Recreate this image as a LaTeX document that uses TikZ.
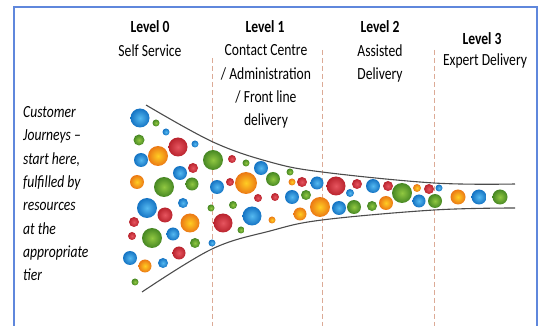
\documentclass[tikz,border=0pt]{standalone}
\usepackage{fontspec}
\setmainfont{Carlito}[FakeStretch=0.8]

% 球的颜色 (内/外)
\definecolor{bluein}{RGB}{85,185,240}
\definecolor{blueout}{RGB}{20,115,195}
\definecolor{greenin}{RGB}{145,200,65}
\definecolor{greenout}{RGB}{70,135,35}
\definecolor{orangein}{RGB}{255,205,35}
\definecolor{orangeout}{RGB}{235,120,20}
\definecolor{redin}{RGB}{230,85,95}
\definecolor{redout}{RGB}{185,35,45}
\definecolor{framecol}{RGB}{95,135,220}
\definecolor{tiercol}{RGB}{220,170,150}

\begin{document}
\begin{tikzpicture}[x=1pt, y=-1pt,
  every node/.style={inner sep=0pt, font=\fontsize{17}{23.4}\selectfont},
  bb/.style={shading=radial, inner color=bluein, outer color=blueout},
  gb/.style={shading=radial, inner color=greenin, outer color=greenout},
  ob/.style={shading=radial, inner color=orangein, outer color=orangeout},
  rb/.style={shading=radial, inner color=redin, outer color=redout},
  tier/.style={dashed, dash pattern=on 5pt off 3pt, tiercol, line width=0.8pt},
  funnel/.style={line width=1.1pt, black!70}]
  \useasboundingbox (0,0) rectangle (539,326);

  % 1. 层级分隔虚线
  \draw[tier] (212,58) -- (212,326);
  \draw[tier] (322,50) -- (322,326);
  \draw[tier] (434,50) -- (434,326);

  % 2. 标题 (多行节点的 base 在最后一行)
  \node[anchor=base, font=\fontsize{17}{23.4}\selectfont\bfseries] (lvl0) at (150,33) {Level 0};
  \node[anchor=base] (lvl0txt) at (150,57) {Self Service};
  \node[anchor=base, font=\fontsize{17}{23.4}\selectfont\bfseries] (lvl1) at (265,33) {Level 1};
  \node[anchor=base, align=center] (lvl1txt) at (266,126)
    {Contact Centre\\/ Administration\\/ Front line\\delivery};
  \node[anchor=base, font=\fontsize{17}{23.4}\selectfont\bfseries] (lvl2) at (380,33) {Level 2};
  \node[anchor=base, align=center] (lvl2txt) at (380,80) {Assisted\\Delivery};
  \node[anchor=base, font=\fontsize{17}{23.4}\selectfont\bfseries] (lvl3) at (482,45) {Level 3};
  \node[anchor=base] (lvl3txt) at (485,66) {Expert Delivery};

  % 左侧说明
  \node[anchor=base west, align=left, font=\fontsize{17}{23.4}\selectfont\itshape] (journey) at (23,281)
    {Customer\\Journeys --\\start here,\\fulfilled by\\resources\\at the\\appropriate\\tier};

  % 3. 漏斗曲线
  \draw[funnel] plot[smooth, tension=0.6] coordinates
    {(146,105) (213,142) (270,162) (322,172) (434,183) (515,184)};
  \draw[funnel] plot[smooth, tension=0.6] coordinates
    {(142,292) (212,249) (270,231) (322,220) (434,210) (515,208)};

  % 4. 彩球 (x/y/半径)
  \foreach \px/\py/\r in {140/118/9.5, 166/132/3.5, 195/144/3.5, 141/160/7, 180/173/7,
      147/208/10, 183/203/5, 173/234/6.5, 130/258/7, 163/263/5, 212/243/3.5,
      261/168/7, 217/187/7, 292/197/7, 252/216/9.5, 317/183/6.5, 350/193/4,
      373/186/7, 339/208/7, 439/188/3.5, 419/201/6.5, 479/197/7.5}
    \shade[bb] (\px,\py) circle (\r pt);
  \foreach \px/\py/\r in {156/123/3.5, 139/140/5.5, 164/187/10, 192/184/6.5,
      152/238/10, 195/243/5, 135/282/3.5, 211/208/3.5, 213/160/10, 246/163/3.5,
      273/179/7, 290/172/3.5, 233/205/4, 241/230/3.5, 402/193/10, 306/195/5,
      354/207/7, 372/206/5, 435/201/7, 500/197/7.5}
    \shade[gb] (\px,\py) circle (\r pt);
  \foreach \px/\py/\r in {158/156/10, 137/182/7, 190/223/9.5, 145/266/6.5,
      246/183/11, 292/182/3.5, 272/220/3.5, 300/214/6.5, 320/207/10,
      386/203/7, 417/188/4, 458/197/7.5}
    \shade[ob] (\px,\py) circle (\r pt);
  \foreach \px/\py/\r in {178/147/9.5, 193/168/5, 165/215/7.5, 134/222/5,
      132/236/4, 179/253/6.5, 232/159/4, 230/182/4, 302/182/5, 258/198/4,
      275/197/4, 223/223/9.5, 336/186/9.5, 357/184/5, 388/186/5, 429/189/5}
    \shade[rb] (\px,\py) circle (\r pt);

  % 5. 外框 (底边不画)
  \draw[framecol, line width=1.6pt] (14,326) -- (14,7) -- (537,7) -- (537,326);
\end{tikzpicture}
\end{document}
